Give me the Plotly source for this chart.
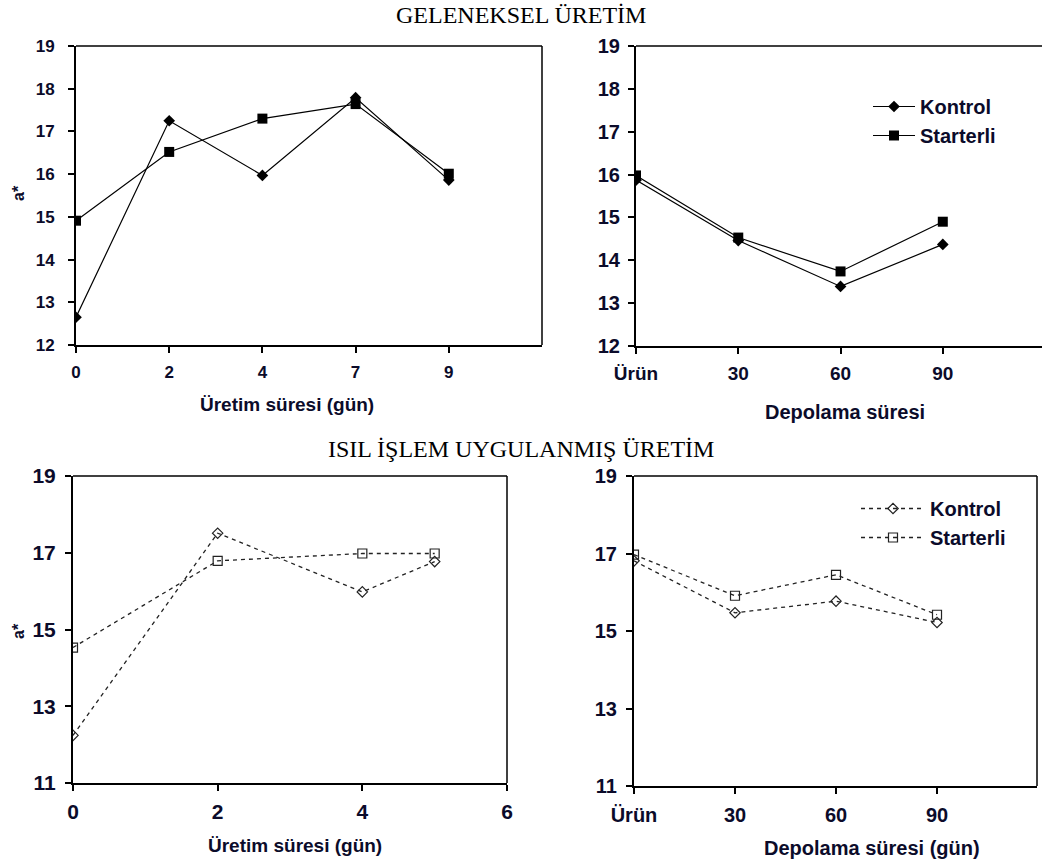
import plotly.graph_objects as go

W, H = 1042, 867

# ---------------- data ----------------
tl_x = ["0", "2", "4", "7", "9"]
tl_kontrol = [12.65, 17.25, 15.97, 17.79, 15.86]
tl_starterli = [14.91, 16.52, 17.30, 17.64, 16.01]

tr_x = ["Ürün", "30", "60", "90"]
tr_kontrol = [15.87, 14.46, 13.39, 14.37]
tr_starterli = [15.98, 14.53, 13.74, 14.90]

bl_x = [0, 2, 4, 5]
bl_kontrol = [12.24, 17.51, 15.98, 16.77]
bl_starterli = [14.53, 16.79, 16.98, 16.98]

br_x = ["Ürün", "30", "60", "90"]
br_kontrol = [16.81, 15.47, 15.77, 15.22]
br_starterli = [16.97, 15.91, 16.45, 15.42]

series_names = ["Kontrol", "Starterli"]
title_top = "GELENEKSEL ÜRETİM"
title_bottom = "ISIL İŞLEM UYGULANMIŞ ÜRETİM"

# ---------------- helpers ----------------
def xd(a, b):
    return [a / W, b / W]

def yd(top, bottom):
    return [1 - bottom / H, 1 - top / H]

SANS = "Liberation Sans, Arial, sans-serif"
SERIF = "Liberation Serif, Times New Roman, serif"
TXT = "#0b0b2a"

fig = go.Figure()

solid = dict(color="black", width=1.2)
dashed = dict(color="#222222", width=1.3, dash="4px,4px")

# top-left
fig.add_trace(go.Scatter(x=tl_x, y=tl_kontrol, mode="lines+markers", xaxis="x", yaxis="y",
                         line=solid, marker=dict(symbol="diamond", size=9, color="black"),
                         showlegend=False))
fig.add_trace(go.Scatter(x=tl_x, y=tl_starterli, mode="lines+markers", xaxis="x", yaxis="y",
                         line=solid, marker=dict(symbol="square", size=10, color="black"),
                         showlegend=False))
# top-right
fig.add_trace(go.Scatter(x=tr_x, y=tr_kontrol, mode="lines+markers", xaxis="x2", yaxis="y2",
                         name=series_names[0], legend="legend", legendgroup="a",
                         line=solid, marker=dict(symbol="diamond", size=9, color="black")))
fig.add_trace(go.Scatter(x=tr_x, y=tr_starterli, mode="lines+markers", xaxis="x2", yaxis="y2",
                         name=series_names[1], legend="legend", legendgroup="b",
                         line=solid, marker=dict(symbol="square", size=10, color="black")))
# bottom-left
fig.add_trace(go.Scatter(x=bl_x, y=bl_kontrol, mode="lines+markers", xaxis="x3", yaxis="y3",
                         line=dashed,
                         marker=dict(symbol="diamond-open", size=8, color="#222222", line=dict(width=1.2)),
                         showlegend=False))
fig.add_trace(go.Scatter(x=bl_x, y=bl_starterli, mode="lines+markers", xaxis="x3", yaxis="y3",
                         line=dashed,
                         marker=dict(symbol="square-open", size=9, color="#222222", line=dict(width=1.2)),
                         showlegend=False))
# bottom-right
fig.add_trace(go.Scatter(x=br_x, y=br_kontrol, mode="lines+markers", xaxis="x4", yaxis="y4",
                         name=series_names[0], legend="legend2", legendgroup="c",
                         line=dashed,
                         marker=dict(symbol="diamond-open", size=8, color="#222222", line=dict(width=1.2))))
fig.add_trace(go.Scatter(x=br_x, y=br_starterli, mode="lines+markers", xaxis="x4", yaxis="y4",
                         name=series_names[1], legend="legend2", legendgroup="d",
                         line=dashed,
                         marker=dict(symbol="square-open", size=9, color="#222222", line=dict(width=1.2))))

def xaxis(domain, anchor, rng, fsize, standoff, **kw):
    d = dict(domain=domain, anchor=anchor, range=rng, showline=True, linecolor="black",
             linewidth=2, ticks="outside", ticklen=6, tickwidth=1.5, tickcolor="black",
             showgrid=False, zeroline=False, automargin=False,
             tickfont=dict(family=SANS, size=fsize, color=TXT, weight="bold"),
             ticklabelstandoff=standoff)
    d.update(kw)
    return d

def yaxis(domain, anchor, rng, dtick, fsize, standoff):
    return dict(domain=domain, anchor=anchor, range=rng, dtick=dtick, tick0=rng[0],
                showline=True, linecolor="black", linewidth=2, ticks="outside", ticklen=6,
                tickwidth=1.5, tickcolor="black", showgrid=False, zeroline=False,
                automargin=False,
                tickfont=dict(family=SANS, size=fsize, color=TXT, weight="bold"),
                ticklabelstandoff=standoff)

# pixel boxes (left, right, top, bottom)
TL = (76, 542, 46, 345)
TR = (636, 1042, 46, 346)
BL = (73, 507, 476, 783)
BR = (634, 1037, 476, 786)

fig.update_layout(
    width=W, height=H, margin=dict(l=0, r=0, t=0, b=0, autoexpand=False),
    paper_bgcolor="white", plot_bgcolor="white",
    xaxis=xaxis(xd(TL[0], TL[1]), "y", [0, 5], 17, 5, type="category"),
    yaxis=yaxis(yd(TL[2], TL[3]), "x", [12, 19], 1, 17, 10),
    xaxis2=xaxis(xd(TR[0], TR[1]), "y2", [0, 3.97], 19, 3, type="category"),
    yaxis2=yaxis(yd(TR[2], TR[3]), "x2", [12, 19], 1, 20, 4),
    xaxis3=xaxis(xd(BL[0], BL[1]), "y3", [0, 6], 21, 3, dtick=2, tick0=0),
    yaxis3=yaxis(yd(BL[2], BL[3]), "x3", [11, 19], 2, 21, 5),
    xaxis4=xaxis(xd(BR[0], BR[1]), "y4", [0, 3.99], 20, 4, type="category"),
    yaxis4=yaxis(yd(BR[2], BR[3]), "x4", [11, 19], 2, 20, 5),
    legend=dict(x=868 / W, y=1 - 87 / H, xanchor="left", yanchor="top",
                bgcolor="rgba(0,0,0,0)", borderwidth=0, traceorder="grouped",
                tracegroupgap=0, itemwidth=42,
                font=dict(family=SANS, size=20, color=TXT, weight="bold")),
    legend2=dict(x=856 / W, y=1 - 489 / H, xanchor="left", yanchor="top",
                 bgcolor="rgba(0,0,0,0)", borderwidth=0, traceorder="grouped",
                 tracegroupgap=0, itemwidth=64,
                 font=dict(family=SANS, size=20, color=TXT, weight="bold")),
)

# frame lines (top / right)
shapes = []
for xa, ya, right in [("x", "y", True), ("x2", "y2", False), ("x3", "y3", True), ("x4", "y4", True)]:
    shapes.append(dict(type="line", xref=f"{xa} domain", yref=f"{ya} domain",
                       x0=0, x1=1, y0=1, y1=1, line=dict(color="black", width=1.5)))
    if right:
        shapes.append(dict(type="line", xref=f"{xa} domain", yref=f"{ya} domain",
                           x0=1, x1=1, y0=0, y1=1, line=dict(color="black", width=1.5)))
fig.update_layout(shapes=shapes)

def ann(text, xpx, ypx, size, family=SANS, bold=True, angle=0, color=TXT):
    return dict(text=text, x=xpx / W, y=1 - ypx / H, xref="paper", yref="paper",
                xanchor="center", yanchor="middle", showarrow=False, textangle=angle,
                font=dict(family=family, size=size, color=color, weight="bold" if bold else "normal"))

annotations = [
    ann(title_top, 521, 15, 24, family=SERIF, bold=False, color="black"),
    ann(title_bottom, 521, 449, 24, family=SERIF, bold=False, color="black"),
    ann("Üretim süresi (gün)", 287, 404, 19),
    ann("Depolama süresi", 845, 412, 20),
    ann("Üretim süresi (gün)", 295, 845, 19),
    ann("Depolama süresi (gün)", 872, 848, 20),
    ann("a*", 18, 193, 16, angle=-90),
    ann("a*", 18, 631, 16, angle=-90),
]
fig.update_layout(annotations=annotations)

fig.write_html("out.html")
